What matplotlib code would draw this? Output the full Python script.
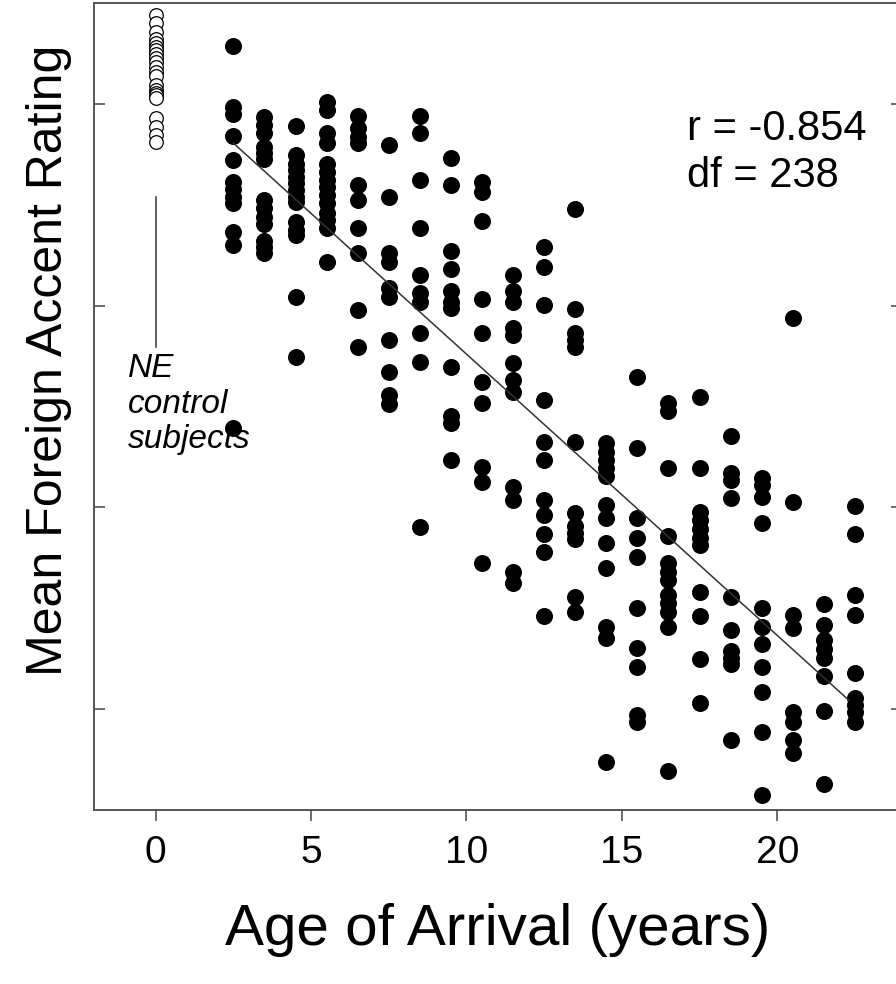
import numpy as np
import matplotlib.pyplot as plt

plt.rcParams['font.family'] = ['Liberation Sans', 'DejaVu Sans']

# age of arrival groups (years) and the mean rating of each subject in them
ages = [2.5, 3.5, 4.5, 5.5, 6.5, 7.5, 8.5, 9.5, 10.5, 11.5, 12.5,
        13.5, 14.5, 15.5, 16.5, 17.5, 18.5, 19.5, 20.5, 21.5, 22.5]

aoa_02 = [8.58, 7.97, 7.90, 7.68, 7.45, 7.23, 7.16, 7.08, 7.02, 6.73, 6.60, 4.79]
aoa_03 = [7.87, 7.79, 7.71, 7.57, 7.51, 7.46, 7.05, 6.97, 6.88, 6.81, 6.64, 6.58, 6.52]
aoa_04 = [7.78, 7.49, 7.41, 7.35, 7.28, 7.22, 7.15, 7.08, 7.03, 6.83, 6.75, 6.70, 6.09, 5.49]
aoa_05 = [8.02, 7.94, 7.71, 7.61, 7.41, 7.33, 7.25, 7.18, 7.10, 7.02, 6.92, 6.85, 6.77, 6.43]
aoa_06 = [7.88, 7.76, 7.67, 7.61, 7.20, 7.05, 6.77, 6.52, 5.96, 5.59]
aoa_07 = [7.59, 7.08, 6.52, 6.43, 6.18, 6.09, 5.66, 5.34, 5.11, 5.03]
aoa_08 = [7.88, 7.71, 7.25, 6.77, 6.30, 6.13, 6.04, 5.73, 5.44, 3.81]
aoa_09 = [7.47, 7.20, 6.54, 6.36, 6.15, 6.04, 5.98, 5.39, 4.91, 4.84, 4.47]
aoa_10 = [7.23, 7.13, 6.84, 6.07, 5.73, 5.24, 5.04, 4.40, 4.25, 3.45]
aoa_11 = [6.30, 6.15, 6.04, 5.78, 5.71, 5.43, 5.26, 5.14, 4.20, 4.07, 3.36, 3.25]
aoa_12 = [6.58, 6.38, 6.01, 5.06, 4.65, 4.47, 4.07, 3.92, 3.74, 3.56, 2.92]
aoa_13 = [6.96, 5.97, 5.73, 5.66, 5.59, 4.65, 3.94, 3.82, 3.75, 3.69, 3.11, 2.96]
aoa_14 = [4.64, 4.55, 4.47, 4.39, 4.31, 4.02, 3.89, 3.65, 3.40, 2.81, 2.70, 1.47]
aoa_15 = [5.29, 4.59, 3.89, 3.70, 3.51, 3.00, 2.61, 2.42, 1.94, 1.87]
aoa_16 = [5.04, 4.96, 4.39, 3.72, 3.45, 3.36, 3.28, 3.13, 3.05, 2.96, 2.81, 1.39]
aoa_17 = [5.09, 4.39, 3.95, 3.87, 3.79, 3.70, 3.63, 3.16, 2.92, 2.50, 2.06]
aoa_18 = [4.71, 4.34, 4.27, 4.09, 3.11, 2.78, 2.58, 2.51, 2.45, 1.69]
aoa_19 = [4.29, 4.22, 4.10, 3.84, 3.00, 2.81, 2.64, 2.42, 2.17, 1.77, 1.15]
aoa_20 = [5.88, 4.05, 2.93, 2.80, 1.97, 1.87, 1.69, 1.56]
aoa_21 = [3.04, 2.83, 2.68, 2.60, 2.51, 2.33, 1.98, 1.26]
aoa_22 = [4.01, 3.74, 3.13, 2.93, 2.36, 2.11, 2.04, 1.97, 1.87]

groups = [aoa_02, aoa_03, aoa_04, aoa_05, aoa_06, aoa_07, aoa_08, aoa_09,
          aoa_10, aoa_11, aoa_12, aoa_13, aoa_14, aoa_15, aoa_16, aoa_17,
          aoa_18, aoa_19, aoa_20, aoa_21, aoa_22]

# native English controls, plotted at age 0
ne_controls = [8.88, 8.80, 8.71, 8.65, 8.61, 8.57, 8.54, 8.50, 8.46, 8.42,
               8.37, 8.32, 8.28, 8.19, 8.14, 8.11, 8.09, 8.06, 7.86, 7.77,
               7.69, 7.62]

# regression line as drawn
fit_intercept = 8.31
fit_slope = -0.279
fit_x = [2.5, 22.3]

xticks = [0, 5, 10, 15, 20]
yticks = [2, 4, 6, 8]

x_pts = np.concatenate([[a] * len(g) for a, g in zip(ages, groups)])
y_pts = np.concatenate(groups)

fig = plt.figure(figsize=(8.96, 9.84), dpi=100)
ax = fig.add_axes([0.1044, 0.1770, 0.9018, 0.8197])

ax.scatter(x_pts, y_pts, s=150, color='black', linewidths=0, zorder=3)
ax.scatter(np.zeros(len(ne_controls)), ne_controls, s=96, facecolors='white',
           edgecolors='black', linewidths=0.9, zorder=3)

fx = np.array(fit_x)
ax.plot(fx, fit_intercept + fit_slope * fx, color='#333333', lw=1.1, zorder=4)

# pointer and label for the control group
ax.plot([0, 0], [7.08, 5.59], color='#444444', lw=1.2)
ax.text(-0.88, 5.295, 'NE', fontsize=24, style='italic', va='baseline')
ax.text(-0.88, 4.935, 'control', fontsize=24, style='italic', va='baseline')
ax.text(-0.88, 4.585, 'subjects', fontsize=24, style='italic', va='baseline')

ax.text(17.09, 7.643, 'r = -0.854', fontsize=30, va='baseline')
ax.text(17.09, 7.177, 'df = 238', fontsize=30, va='baseline')

ax.set_xlim(-2, 24)
ax.set_ylim(1, 9)
ax.set_xticks(xticks)
ax.set_xticklabels([str(t) for t in xticks])
ax.set_yticks(yticks)
ax.set_yticklabels([])

ax.tick_params(axis='x', direction='out', length=8, width=1.1, color='#444444',
               labelsize=28, pad=10)
ax.tick_params(axis='y', direction='in', length=8, width=1.1, color='#444444',
               left=True, right=True)
for sp in ax.spines.values():
    sp.set_color('#555555')
    sp.set_linewidth(1.4)

ax.set_xlabel('Age of Arrival (years)', fontsize=42)
ax.xaxis.set_label_coords(0.5006, -0.1154)
ax.xaxis.label.set_va('top')
ax.set_ylabel('Mean Foreign Accent Rating', fontsize=36)
ax.yaxis.set_label_coords(-0.027, 0.557)

fig.savefig('out.png', dpi=100)
